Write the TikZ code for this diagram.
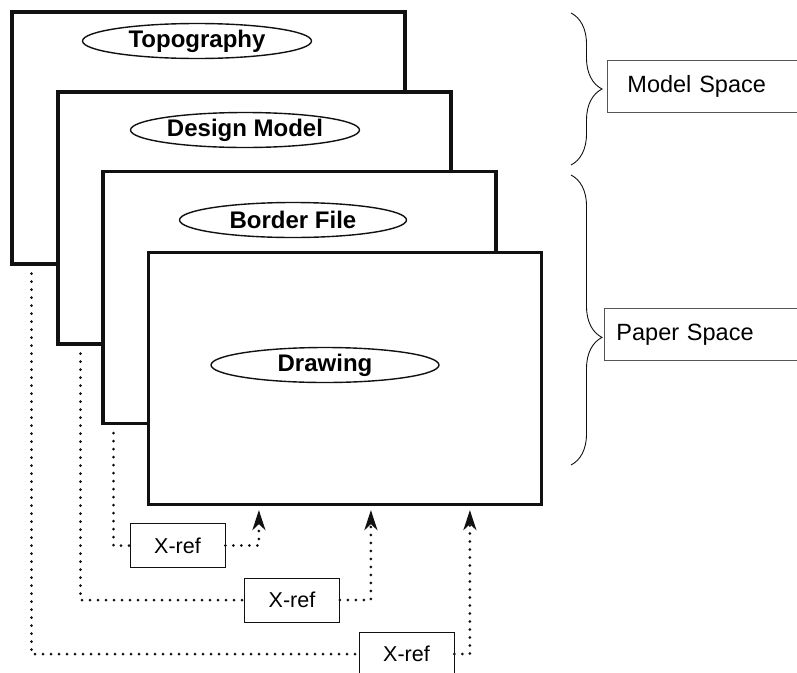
\documentclass[tikz,border=0pt]{standalone}
\usepackage{fontspec}
\setmainfont{Liberation Sans}
\usepackage{xcolor}
\usepackage{tikz}
\usetikzlibrary{shapes.geometric, arrows.meta, decorations.pathreplacing}
\definecolor{inkdraw}{HTML}{111111}
\definecolor{boxdraw}{HTML}{555555}
\definecolor{pagefill}{HTML}{FFFFFF}
\tikzset{
  sheet/.style={rectangle, draw=inkdraw, fill=pagefill, line width=3.2pt, minimum width=393pt, minimum height=252pt, inner sep=0pt},
  layer/.style={ellipse, draw=inkdraw, fill=pagefill, line width=1.4pt, minimum width=229pt, minimum height=35pt, inner sep=0pt, font=\fontsize{24}{26}\selectfont\bfseries},
  spacebox/.style={rectangle, draw=boxdraw, line width=0.9pt, anchor=west, text width=200pt, align=left, inner xsep=20pt, minimum height=52pt, font=\fontsize{23.5}{26}\selectfont},
  xrefbox/.style={rectangle, draw=inkdraw, line width=0.9pt, minimum width=95pt, minimum height=44pt, inner sep=0pt, font=\fontsize{21.5}{24}\selectfont},
  dotline/.style={draw=inkdraw, line width=3pt, line cap=round, dash pattern=on 0pt off 8pt},
  xarr/.style={-{Stealth[length=20pt, width=13pt, inset=6pt]}},
  brc/.style={draw=inkdraw, line width=0.9pt, decorate, decoration={brace, amplitude=31pt}},
}
\begin{document}
\begin{tikzpicture}[x=1pt, y=-1pt]
  \useasboundingbox (0,0) rectangle (797,672);

  % stacked sheets
  \node[sheet] (topo) at (208.5,138) {};
  \node[layer] (topolbl) at (197,41) {Topography};
  \node[sheet] (design) at (254.5,218) {};
  \node[layer] (designlbl) at (245,130) {Design Model};
  \node[sheet] (border) at (299.5,297.5) {};
  \node[layer, minimum width=227pt] (borderlbl) at (293,220) {Border File};
  \node[sheet] (drawing) at (345,378.5) {};
  \node[layer, minimum width=228pt] (drawinglbl) at (325,365) {Drawing};

  % braces
  \draw[brc] (571,13) -- (571,165);
  \draw[brc, decoration={aspect=0.56}] (571,175) -- (571,465);
  \node[spacebox] (mspace) at (607,86) {Model Space};
  \node[spacebox, inner xsep=12pt] (pspace) at (604,334.5) {Paper Space};

  % cross references
  \node[xrefbox] (xref1) at (177.5,545.5) {X-ref};
  \node[xrefbox] (xref2) at (292,600) {X-ref};
  \node[xrefbox] (xref3) at (406.5,654) {X-ref};

  \draw[dotline] ([xshift=12pt, yshift=-8pt]border.south west) |- (xref1.west);
  \draw[dotline] ([xshift=24pt, yshift=-8pt]design.south west) |- (xref2.west);
  \draw[dotline] ([xshift=21pt, yshift=-8pt]topo.south west) |- (xref3.west);
  \draw[dotline, xarr] (xref1.east) -| ([xshift=112pt, yshift=-4pt]drawing.south west);
  \draw[dotline, xarr] (xref2.east) -| ([xshift=224pt, yshift=-4pt]drawing.south west);
  \draw[dotline, xarr] (xref3.east) -| ([xshift=323pt, yshift=-4pt]drawing.south west);
\end{tikzpicture}
\end{document}
